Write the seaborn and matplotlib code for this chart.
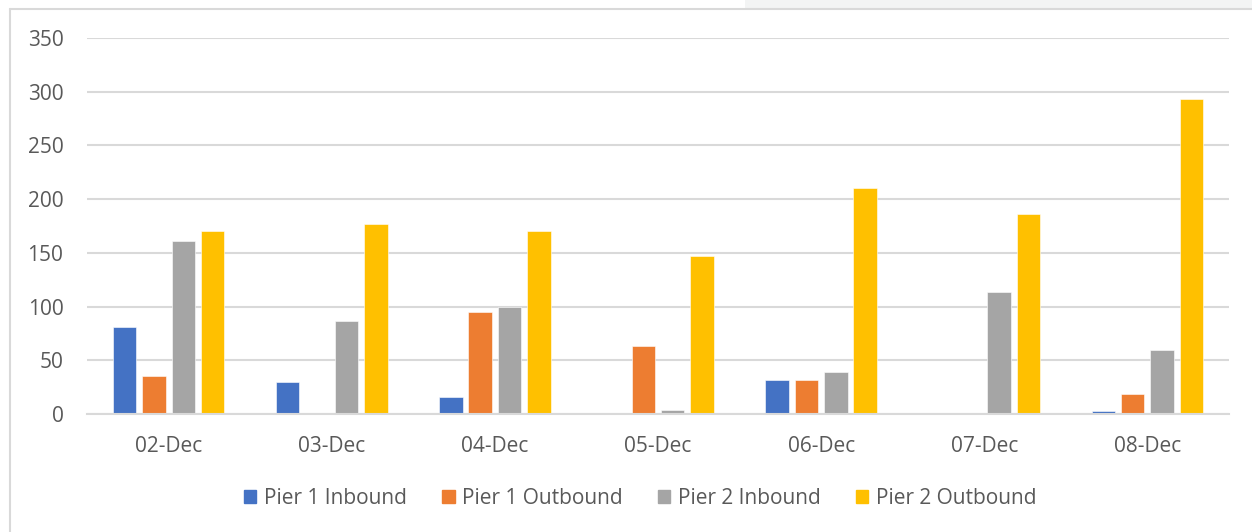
import matplotlib
matplotlib.use("Agg")
import matplotlib.pyplot as plt
import seaborn as sns
import pandas as pd
import numpy as np
from matplotlib.patches import Rectangle
from matplotlib.lines import Line2D

dates = ["02-Dec", "03-Dec", "04-Dec", "05-Dec", "06-Dec", "07-Dec", "08-Dec"]
series_names = ["Pier 1 Inbound", "Pier 1 Outbound", "Pier 2 Inbound", "Pier 2 Outbound"]
pier1_inbound = [81, 30, 16, 0, 32, 0, 3]
pier1_outbound = [35, 0, 95, 63, 32, 0, 19]
pier2_inbound = [161, 87, 100, 4, 39, 114, 60]
pier2_outbound = [170, 177, 170, 147, 210, 186, 293]
colors = ["#4472C4", "#ED7D31", "#A5A5A5", "#FFC000"]
yticks = [0, 50, 100, 150, 200, 250, 300, 350]

df = pd.DataFrame({
    "date": dates * 4,
    "series": sum([[s] * len(dates) for s in series_names], []),
    "value": pier1_inbound + pier1_outbound + pier2_inbound + pier2_outbound,
})

sns.set_theme(style="white")
plt.rcParams["font.family"] = ["Open Sans", "DejaVu Sans"]
txt = "#595959"
grid = "#D9D9D9"

fig = plt.figure(figsize=(12.52, 5.32), dpi=100)

# faint sheet background strip above the chart border (top right)
fig.add_artist(Rectangle((745 / 1252, 1 - 9 / 532), 1 - 745 / 1252, 9 / 532,
                         transform=fig.transFigure, facecolor="#F3F4F4", edgecolor="none"))

ax = fig.add_axes([87 / 1252, 1 - 414 / 532, (1229 - 87) / 1252, (414 - 38) / 532])

sns.barplot(data=df, x="date", y="value", hue="series", order=dates,
            hue_order=series_names, palette=colors, width=0.72, gap=0.2,
            saturation=1, ax=ax, legend=False, edgecolor="white", linewidth=0.4)

ax.set_ylim(0, 350)
ax.set_xlim(-0.5, len(dates) - 0.5)
ax.set_yticks(yticks)
ax.set_yticklabels([str(v) for v in yticks], fontsize=15, color=txt)
ax.set_xlabel("")
ax.set_ylabel("")
ax.yaxis.grid(True, color=grid, linewidth=1.5)
ax.set_axisbelow(True)
for s in ["top", "right", "left"]:
    ax.spines[s].set_visible(False)
ax.spines["bottom"].set_color(grid)
ax.spines["bottom"].set_linewidth(1.5)
ax.tick_params(axis="y", length=0, pad=17)
ax.tick_params(axis="x", which="major", length=0, pad=16, labelsize=15, labelcolor=txt)
ax.set_xticks(np.arange(-0.5, len(dates)), minor=True)
ax.tick_params(axis="x", which="minor", length=7, width=1.5, color=grid)

handles = [Rectangle((0, 0), 1, 1, color=c) for c in colors]
fig.legend(handles, series_names, loc="center", bbox_to_anchor=(640 / 1252, 1 - 498 / 532),
           ncol=4, frameon=False, fontsize=15, labelcolor=txt, handlelength=0.6,
           handleheight=0.6, handletextpad=0.35, columnspacing=1.7)

# chart border
fig.add_artist(Line2D([10 / 1252, 10 / 1252], [0, 1 - 9 / 532], transform=fig.transFigure,
                      color=grid, linewidth=1.5))
fig.add_artist(Line2D([10 / 1252, 1], [1 - 9 / 532, 1 - 9 / 532], transform=fig.transFigure,
                      color=grid, linewidth=1.5))

fig.savefig("out.png", dpi=100, facecolor="white")
